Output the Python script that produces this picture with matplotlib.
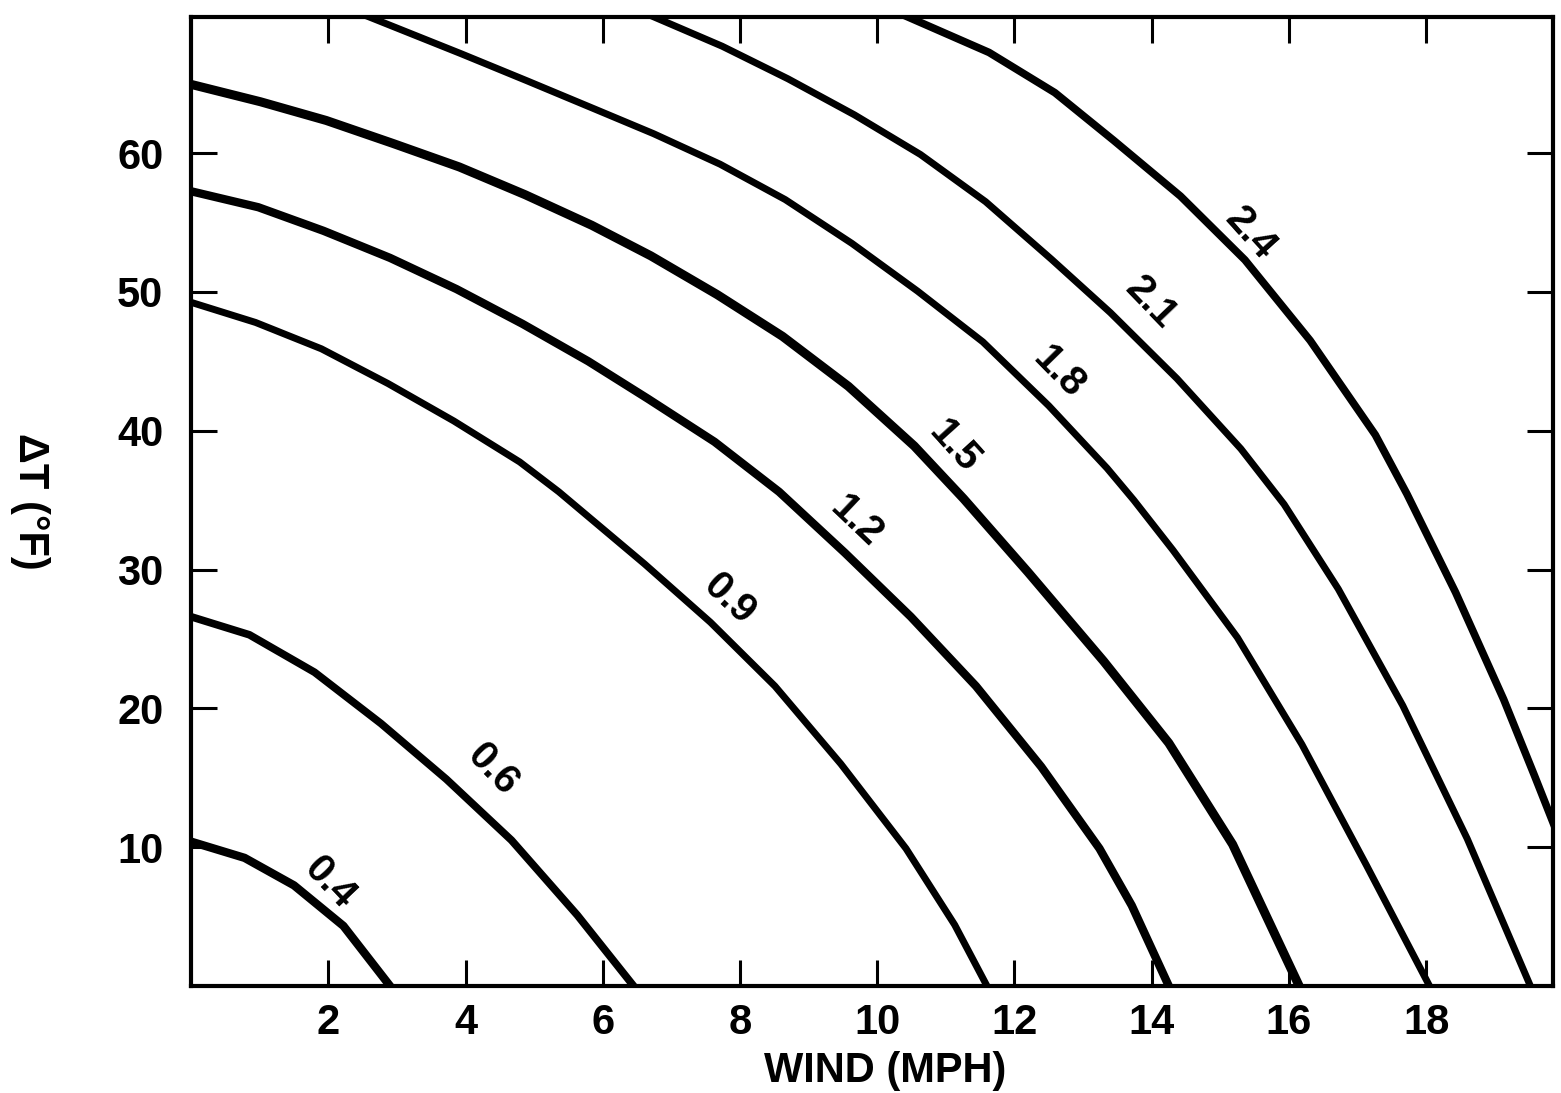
import numpy as np
import matplotlib
matplotlib.use('Agg')
import matplotlib.pyplot as plt

plt.rcParams['font.family'] = ['Liberation Sans', 'DejaVu Sans']

# iso-lines: wind (mph) vs delta T (F)
levels = ['0.4', '0.6', '0.9', '1.2', '1.5', '1.8', '2.1', '2.4']

x_04 = [0, 0.78, 1.50, 2.22, 2.9]
y_04 = [10.4, 9.23, 7.25, 4.33, 0]

x_06 = [0, 0.85, 1.80, 2.77, 3.72, 4.67, 5.63, 6.45]
y_06 = [26.6, 25.3, 22.6, 18.9, 14.9, 10.5, 5.1, 0]

x_09 = [0, 0.94, 1.90, 2.87, 3.83, 4.79, 5.36, 6.61, 7.57, 8.51, 9.47,
        10.42, 11.13, 11.6]
y_09 = [49.25, 47.8, 45.9, 43.4, 40.7, 37.75, 35.6, 30.4, 26.2, 21.6, 16.0,
        9.9, 4.4, 0]

x_12 = [0, 0.98, 1.93, 2.90, 3.87, 4.83, 5.79, 6.66, 7.63, 8.57, 9.53,
        10.49, 11.44, 12.39, 13.24, 13.71, 14.25]
y_12 = [57.25, 56.1, 54.4, 52.45, 50.2, 47.7, 45.0, 42.3, 39.2, 35.6, 31.2,
        26.6, 21.6, 15.8, 9.9, 5.8, 0]

x_15 = [0, 1.01, 1.97, 2.94, 3.91, 4.87, 5.84, 6.70, 7.67, 8.62, 9.58,
        10.54, 11.26, 12.20, 13.30, 14.25, 15.18, 16.15]
y_15 = [64.95, 63.7, 62.35, 60.7, 59.0, 57.0, 54.8, 52.6, 49.8, 46.8, 43.2,
        38.9, 35.1, 29.8, 23.4, 17.5, 10.2, 0]

x_18 = [2.6, 3.94, 4.90, 5.87, 6.74, 7.71, 8.66, 9.63, 10.59, 11.54, 12.50,
        13.35, 13.74, 14.31, 15.25, 16.19, 17.13, 18.05]
y_18 = [69.8, 67.15, 65.2, 63.2, 61.4, 59.2, 56.65, 53.5, 50.05, 46.4,
        41.8, 37.3, 35.0, 31.4, 25.1, 17.4, 8.7, 0]

x_21 = [6.75, 7.74, 8.70, 9.67, 10.63, 11.58, 12.54, 13.40, 14.37, 15.30,
        15.93, 16.72, 17.66, 18.60, 19.52]
y_21 = [69.8, 67.7, 65.35, 62.75, 59.9, 56.5, 52.35, 48.5, 43.75, 38.7,
        34.7, 28.6, 20.2, 10.6, 0]

x_24 = [10.45, 11.63, 12.59, 13.45, 14.42, 15.36, 16.31, 17.26, 17.72,
        18.43, 19.13, 19.58, 19.96]
y_24 = [69.8, 67.25, 64.35, 60.9, 56.9, 52.3, 46.5, 39.7, 35.45, 28.35,
        20.65, 15.15, 10.4]

curves_x = [x_04, x_06, x_09, x_12, x_15, x_18, x_21, x_24]
curves_y = [y_04, y_06, y_09, y_12, y_15, y_18, y_21, y_24]

# where each curve label sits (data coords)
label_x = [2.02, 4.40, 7.84, 9.70, 11.12, 12.65, 13.99, 15.44]
label_y = [7.45, 15.6, 27.85, 33.5, 38.9, 44.2, 49.2, 54.2]

x_ticks = [2, 4, 6, 8, 10, 12, 14, 16, 18]
y_ticks = [10, 20, 30, 40, 50, 60]

fig = plt.figure(figsize=(15.61, 10.93), dpi=100)
ax = fig.add_axes([0.1224, 0.0979, 0.8725, 0.8865])

widths = [6, 5.5, 5, 6, 6.5, 5, 5, 5.5]
for cx, cy, lw in zip(curves_x, curves_y, widths):
    ax.plot(cx, cy, color='black', lw=lw, solid_joinstyle='round')

ax.set_xlim(0, 19.85)
ax.set_ylim(0, 69.8)
fig.canvas.draw()

for lab, lx, ly, cx, cy in zip(levels, label_x, label_y, curves_x, curves_y):
    # rotate label along the local tangent of its curve (screen space)
    pts = ax.transData.transform(np.column_stack([cx, cy]))
    i = int(np.argmin(np.abs(np.array(cx) - lx)))
    i0, i1 = max(i - 1, 0), min(i + 1, len(cx) - 1)
    d = pts[i1] - pts[i0]
    ang = np.degrees(np.arctan2(d[1], d[0]))
    ax.text(lx, ly, lab, rotation=ang, rotation_mode='anchor',
            ha='center', va='center', fontsize=29, fontweight='bold')

ax.set_xticks(x_ticks)
ax.set_yticks(y_ticks)
ax.tick_params(direction='in', length=19, width=2.2, top=True, right=True,
               labelsize=30)
ax.tick_params(axis='x', pad=12)
ax.tick_params(axis='y', pad=20)
for t in ax.get_xticklabels() + ax.get_yticklabels():
    t.set_fontweight('bold')
for s in ax.spines.values():
    s.set_linewidth(3)

ax.set_xlabel('WIND (MPH)', fontsize=30, fontweight='bold', va='top')
ax.xaxis.set_label_coords(0.51, -0.067)
ax.set_ylabel('\u0394T (\u00b0F)', fontsize=30, fontweight='bold',
              rotation=-90, va='center')
ax.yaxis.set_label_coords(-0.118, 0.50)

fig.savefig('out.png', dpi=100)
